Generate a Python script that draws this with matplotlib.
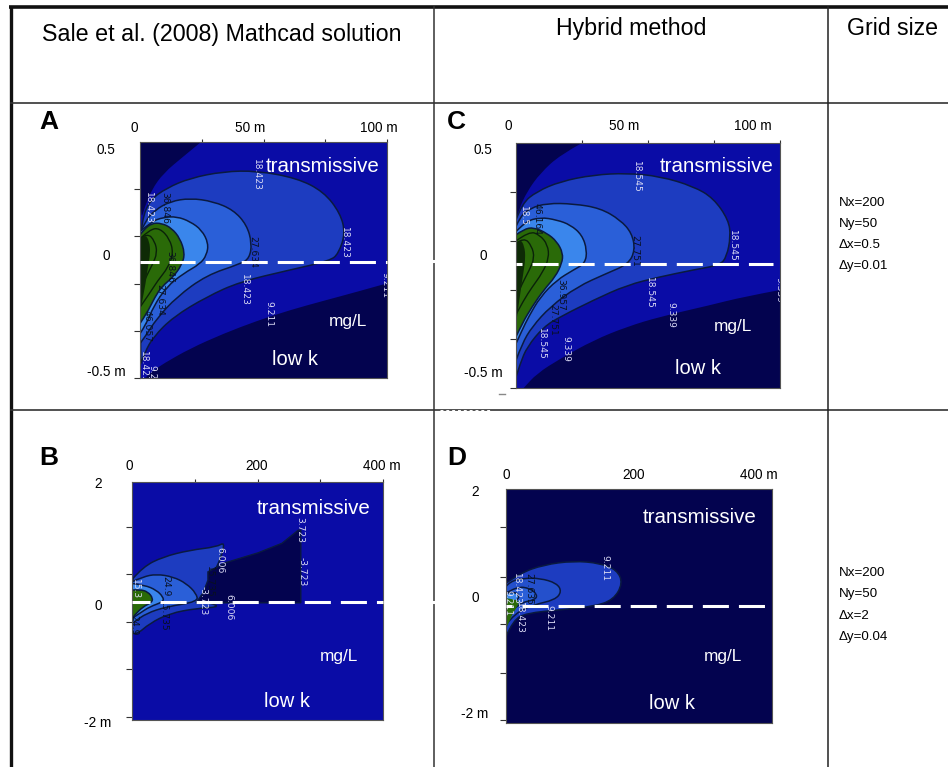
import matplotlib
matplotlib.use("Agg")
import matplotlib.pyplot as plt
from matplotlib.path import Path
from matplotlib.patches import PathPatch

plt.rcParams['font.family'] = ['Liberation Sans', 'DejaVu Sans']

W, H = 948, 767

# colours of the contour bands
NAVY = '#03034f'
BLUE1 = '#0a0ca6'
BLUE2 = '#1d3cc0'
BLUE3 = '#2a5fd8'
BLUE4 = '#3a86ec'
GREEN = '#2a6a08'
DKGREEN = '#0e2a06'

# Panel A, outlines (x in m, y in m)
a_corner_x = [24.7, 17.6, 9.5, 4.7, 2, 0, 0]
a_corner_y = [.5, .439, .368, .297, .227, .156, .5]
a_low_x = [100, 87.8, 74.3, 60.8, 47.3, 33.8, 20.3, 9.5, 4.7, 2, 2, 100]
a_low_y = [-.099, -.135, -.173, -.212, -.258, -.312, -.375, -.439, -.474, -.5, -.5, -.5]
a_l2_x = [0.3, 2, 5.4, 13.5, 27, 40.5, 60.8, 77, 80.4, 83.1, 81.1, 74.3, 63.5, 47.3, 33.8, 20.3, 10.8, 4.1, .7, 0]
a_l2_y = [-.439, -.39, -.326, -.241, -.156, -.092, -.042, -.003, .028, .113, .198, .29, .347, .378, .375, .347, .305, .255, .17, .07]
a_l3_x = [0, 2, 6.8, 14.9, 27, 40.5, 44.3, 45.3, 43.2, 37.8, 29.7, 20.3, 12.2, 6.1, 2, 0]
a_l3_y = [-.354, -.326, -.248, -.156, -.064, -.017, .007, .071, .149, .212, .248, .262, .248, .212, .163, .113]
a_l4_x = [0, 2.7, 5.4, 10.8, 17.6, 24.3, 27, 27.7, 25, 20.3, 14.9, 9.5, 4.7, 0]
a_l4_y = [-.312, -.269, -.198, -.113, -.057, -.017, .021, .071, .127, .163, .184, .181, .163, .12]
a_gr_x = [0, 2.7, 6.1, 8.8, 13.5, 16.9, 18.2, 16.2, 12.8, 8.8, 4.7, 1.4, 0]
a_gr_y = [-.269, -.227, -.156, -.113, -.071, -.021, .028, .092, .135, .156, .156, .127, .106]
a_in1_x = [0, 4, 7, 11.5, 13.5, 12, 8, 4, 0]
a_in1_y = [-.2, -.14, -.09, -.03, .03, .09, .135, .13, .09]
a_in2_x = [0, 2.5, 5, 7, 6, 3, 0]
a_in2_y = [-.13, -.07, -.02, .03, .08, .115, .09]
a_dk_x = [0, 2, 3.2, 4.2, 3.8, 2, 0]
a_dk_y = [-.22, -.12, -.03, .03, .08, .11, .09]
a_labels = ['18.423', '18.423', '18.423', '9.211', '9.211', '18.423', '18.423', '9.2']
a_lab_x = [47.3, 82.7, 42.2, 52, 99, 3.5, 1.4, 5]
a_lab_y = [.361, .071, -.127, -.227, -.106, .22, -.453, -.475]
a_dark_labels = ['27.634', '36.846', '27.634', '36.846', '46.057']
a_dark_x = [45.5, 10, 8, 12, 3]
a_dark_y = [.035, .22, -.17, -.03, -.28]

# Panel C
c_corner_x = [25, 16.8, 9.2, 4.2, 1, 0, 0]
c_corner_y = [.5, .452, .377, .302, .227, .173, .5]
c_low_x = [100, 86.1, 73.5, 54.6, 42, 29.4, 16.8, 7.9, 2.9, 2.9, 100]
c_low_y = [-.1, -.128, -.162, -.209, -.25, -.305, -.38, -.441, -.5, -.5, -.5]
c_l2_x = [0, 1.6, 4.2, 10.5, 16.8, 29.4, 42, 54.6, 67.2, 77.3, 79.8, 81.3, 80.5, 74.8, 67.2, 54.6, 42, 29.4, 16.8, 7.9, 2.3, 0]
c_l2_y = [-.455, -.4, -.332, -.25, -.209, -.141, -.08, -.046, -.018, .002, .036, .118, .186, .275, .323, .364, .377, .37, .343, .302, .254, .186]
c_l3_x = [0, 2.3, 6.1, 13, 23.1, 34.4, 42.6, 45.1, 43.9, 39.5, 31.9, 21.8, 11.7, 5.4, 1.6, 0]
c_l3_y = [-.387, -.319, -.25, -.168, -.087, -.032, .006, .063, .132, .186, .234, .252, .254, .234, .2, .159]
c_l4_x = [0, 2.3, 4.8, 9.2, 15.5, 21.8, 26.2, 26.9, 25, 20.6, 15.5, 9.2, 3.5, 0]
c_l4_y = [-.319, -.264, -.209, -.128, -.059, -.018, .009, .063, .125, .166, .186, .197, .179, .138]
c_gr_x = [0, 2.3, 6.1, 10.5, 14.9, 17.4, 17.8, 15.5, 11.7, 6.7, 2.9, 0]
c_gr_y = [-.291, -.237, -.168, -.1, -.046, .009, .05, .098, .132, .156, .148, .125]
c_in1_x = [0, 3, 6, 10, 12.5, 12, 9, 5, 0]
c_in1_y = [-.2, -.14, -.09, -.03, .03, .085, .125, .14, .1]
c_in2_x = [0, 2.5, 5, 7, 6, 3, 0]
c_in2_y = [-.13, -.07, -.02, .03, .08, .115, .09]
c_dk_x = [0, 1.5, 2.8, 3.6, 3.2, 1.5, 0]
c_dk_y = [-.24, -.12, -.03, .03, .08, .11, .09]
c_labels = ['18.545', '18.545', '18.545', '9.339', '9.339', '18.545', '9.339', '18.5']
c_lab_x = [45.5, 82, 50.5, 58.5, 99.5, 9.5, 19, 3]
c_lab_y = [.36, .08, -.11, -.2, -.1, -.32, -.34, .2]
c_dark_labels = ['27.751', '36.957', '27.751', '46.164']
c_dark_x = [45, 17, 14, 8]
c_dark_y = [.06, -.12, -.22, .19]

# Panel B
b_l2_x = [1.6, 17.5, 49.4, 91.9, 135, 148, 142, 134, 115.8, 105.1, 145, 102.5, 60, 28.1, 6.9, 0]
b_l2_y = [.379, .574, .742, .854, .91, .99, .742, .547, .155, .016, -.096, -.124, -.208, -.376, -.571, -.54]
b_wedge_x = [121, 148, 201, 239, 265, 269, 269, 102, 113, 121]
b_wedge_y = [.49, .64, .81, .97, 1.19, 1.19, -.03, -.03, .13, .35]
b_l3_x = [0, 17.5, 38.8, 65.3, 86.6, 102.5, 105.1, 54.7, 22.8, 4.2, 0]
b_l3_y = [.323, .407, .452, .407, .295, .127, -.012, -.096, -.208, -.348, -.376]
b_l4_x = [0, 20.2, 38.8, 49.4, 50.4, 28.1, 12.2, 0]
b_l4_y = [.295, .267, .183, .071, -.012, -.096, -.208, -.292]
b_gr_x = [0, 12.2, 25.5, 33.5, 30.8, 17.5, 4.2, 0]
b_gr_y = [.183, .194, .155, .043, -.029, -.096, -.236, -.292]
b_labels = ['3.723', '-3.723', '6.006', '6.006', '-3.723', '15.3']
b_lab_x = [268, 271, 140, 155, 113, 5]
b_lab_y = [1.19, .49, .69, -.1, 0, .2]
b_dark_labels = ['15.735', '24.9', '15.735', '24.9']
b_dark_x = [124, 54, 50, 3]
b_dark_y = [.32, .25, -.25, -.4]

# Panel D
d_l1_x = [0, 11, 31.1, 81.3, 131.5, 161.6, 175.7, 166.7, 141.6, 101.4, 56.2, 21.1, 0]
d_l1_y = [-.52, -.236, -.122, -.065, -.009, .105, .39, .617, .731, .771, .703, .56, .39]
d_l2_x = [0, 13.6, 41.2, 73.8, 83.8, 76.3, 51.2, 26.1, 6, 0]
d_l2_y = [-.32, -.122, .02, .105, .247, .39, .475, .475, .418, .333]
d_l3_x = [0, 18.6, 43.7, 47.2, 36.1, 16.1, 0]
d_l3_y = [-.18, .048, .105, .19, .304, .333, .219]
d_l4_x = [0, 13.6, 21.1, 13.6, 0]
d_l4_y = [-.065, .077, .162, .247, .219]
d_gr_x = [0, 6, 18.6, 20.1, 0]
d_gr_y = [-.407, -.208, .02, .105, .133]
d_labels = ['9.211', '18.423', '9.211', '18.423', '9.211']
d_lab_x = [148, 15, 65, 21, 3]
d_lab_y = [.65, .3, -.2, -.2, .05]
d_dark_labels = ['27.635']
d_dark_x = [35]
d_dark_y = [.3]

# headers and annotations
headers = ['Sale et al. (2008) Mathcad solution', 'Hybrid method', 'Grid size']
panel_letters = ['A', 'C', 'B', 'D']
grid_top = ['Nx=200', 'Ny=50', 'Δx=0.5', 'Δy=0.01']
grid_bottom = ['Nx=200', 'Ny=50', 'Δx=2', 'Δy=0.04']
top_labels_ac = ['0', '50 m', '100 m']
top_labels_bd = ['0', '200', '400 m']
side_labels_ac = ['0.5', '0', '-0.5 m']
side_labels_bd = ['2', '0', '-2 m']

fig = plt.figure(figsize=(W / 100, H / 100), dpi=100, facecolor='white')


def make_axes(left, right, top, bottom, xmax, ymax, xticks, yticks):
    ax = fig.add_axes([left / W, 1 - bottom / H, (right - left) / W, (bottom - top) / H])
    ax.set_xlim(0, xmax)
    ax.set_ylim(-ymax, ymax)
    ax.xaxis.tick_top()
    ax.set_xticks(xticks)
    ax.set_yticks(yticks)
    ax.set_xticklabels([])
    ax.set_yticklabels([])
    ax.tick_params(axis='x', length=2.5, width=.8, color='#333333', pad=0)
    ax.tick_params(axis='y', length=4.5, width=.8, color='#333333', pad=0)
    for s in ax.spines.values():
        s.set_color('#555555')
        s.set_linewidth(.8)
    return ax


def curve_path(x, y, close=True):
    # quadratic curve with the read points as control points
    pts = list(zip(x, y))
    verts = [pts[0]]
    codes = [Path.MOVETO]
    for i in range(1, len(pts) - 1):
        mid = ((pts[i][0] + pts[i + 1][0]) / 2, (pts[i][1] + pts[i + 1][1]) / 2)
        if i == len(pts) - 2:
            mid = pts[i + 1]
        verts += [pts[i], mid]
        codes += [Path.CURVE3, Path.CURVE3]
    if close:
        verts.append(pts[0])
        codes.append(Path.CLOSEPOLY)
    return Path(verts, codes)


def band(ax, x, y, color, line=True):
    p = PathPatch(curve_path(x, y), facecolor=color, edgecolor='#0a1a40' if line else color,
                  linewidth=1.1 if line else 0)
    ax.add_patch(p)


def inner(ax, x, y):
    ax.add_patch(PathPatch(curve_path(x, y, False), facecolor='none', edgecolor='#0a2208', linewidth=1.0))


def labels(ax, txt, xs, ys, color):
    for t, x, y in zip(txt, xs, ys):
        ax.text(x, y, t, rotation=270, color=color, fontsize=6.6, ha='center', va='center',
                family='DejaVu Sans', clip_on=True, zorder=4)


def dashes(ax, x_end, y, offset):
    ax.plot([0, x_end], [y, y], color='white', lw=2.2, solid_capstyle='butt',
            dash_capstyle='butt', linestyle=(offset / 3.05, (26 / 3.05, 10 / 3.05)), clip_on=False, zorder=5)


# A
ax = make_axes(140, 387, 142, 378, 100, .5, [25, 50, 75, 100], [-.5, -.3, -.1, .1, .3])
ax.set_facecolor(BLUE1)
band(ax, a_corner_x, a_corner_y, NAVY, False)
band(ax, a_low_x, a_low_y, NAVY, False)
band(ax, a_l2_x, a_l2_y, BLUE2)
band(ax, a_l3_x, a_l3_y, BLUE3)
band(ax, a_l4_x, a_l4_y, BLUE4)
band(ax, a_gr_x, a_gr_y, GREEN)
inner(ax, a_in1_x, a_in1_y)
inner(ax, a_in2_x, a_in2_y)
band(ax, a_dk_x, a_dk_y, DKGREEN, False)
labels(ax, a_labels, a_lab_x, a_lab_y, '#dcdcf5')
labels(ax, a_dark_labels, a_dark_x, a_dark_y, '#081020')
dashes(ax, 100, -.007, 7)

# C
ax = make_axes(516, 780, 143, 388, 100, .5, [25, 50, 75, 100], [-.5, -.3, -.1, .1, .3])
ax.set_facecolor(BLUE1)
band(ax, c_corner_x, c_corner_y, NAVY, False)
band(ax, c_low_x, c_low_y, NAVY, False)
band(ax, c_l2_x, c_l2_y, BLUE2)
band(ax, c_l3_x, c_l3_y, BLUE3)
band(ax, c_l4_x, c_l4_y, BLUE4)
band(ax, c_gr_x, c_gr_y, GREEN)
inner(ax, c_in1_x, c_in1_y)
inner(ax, c_in2_x, c_in2_y)
band(ax, c_dk_x, c_dk_y, DKGREEN, False)
labels(ax, c_labels, c_lab_x, c_lab_y, '#dcdcf5')
labels(ax, c_dark_labels, c_dark_x, c_dark_y, '#081020')
dashes(ax, 97.5, .005, 20)

# B
ax = make_axes(132, 383, 482, 720, 400, 2, [100, 200, 300, 400], [-1.95, -1.15, -.35, .45, 1.25])
ax.set_facecolor(BLUE1)
band(ax, b_l2_x, b_l2_y, BLUE2)
ax.fill(b_wedge_x, b_wedge_y, facecolor=NAVY, edgecolor='#0a1a40', linewidth=1.0)
band(ax, b_l3_x, b_l3_y, BLUE3)
band(ax, b_l4_x, b_l4_y, BLUE4)
band(ax, b_gr_x, b_gr_y, GREEN)
labels(ax, b_labels, b_lab_x, b_lab_y, '#dcdcf5')
labels(ax, b_dark_labels, b_dark_x, b_dark_y, '#081020')
dashes(ax, 400, -.02, 8)

# D
ax = make_axes(506, 772, 489, 723, 400, 2, [100, 200, 300, 400], [-1.95, -1.15, -.3, .5, 1.35])
ax.set_facecolor(NAVY)
ax.tick_params(axis='x', length=0)
band(ax, d_l1_x, d_l1_y, BLUE2)
band(ax, d_l2_x, d_l2_y, '#2450cc')
band(ax, d_l3_x, d_l3_y, BLUE3)
band(ax, d_l4_x, d_l4_y, BLUE4)
band(ax, d_gr_x, d_gr_y, GREEN, False)
labels(ax, d_labels, d_lab_x, d_lab_y, '#dcdcf5')
labels(ax, d_dark_labels, d_dark_x, d_dark_y, '#081020')
dashes(ax, 390, .0, 20)

# table rules and all other text go on a top layer in pixel coordinates
top = fig.add_axes([0, 0, 1, 1], zorder=10)
top.set_xlim(0, W)
top.set_ylim(H, 0)
top.axis('off')
top.patch.set_alpha(0)

top.plot([9, W], [7, 7], color='#111111', lw=2.6, solid_capstyle='butt')
top.plot([11, 11], [7, H], color='#111111', lw=2.4, solid_capstyle='butt')
top.plot([11, W], [103, 103], color='#333333', lw=1.2)
top.plot([11, W], [410, 410], color='#333333', lw=1.2)
top.plot([434, 434], [7, H], color='#333333', lw=1.1)
top.plot([828, 828], [7, H], color='#222222', lw=1.1)
top.plot([430, 437], [261, 261], color='white', lw=2.2)
top.plot([430, 437], [602, 602], color='white', lw=2.2)
top.plot([440, 490], [410, 410], color='white', lw=.7, ls=(0, (3, 3)))
top.plot([499, 505], [394, 394], color='#888888', lw=1)


def txt(x, y, s, size=9.8, color='black', ha='center', **kw):
    top.text(x, y + 1.2, s, fontsize=size, color=color, ha=ha, va='center', **kw)


txt(42, 33, headers[0], 16.75, ha='left')
txt(631, 27, headers[1], 16.7)
txt(893, 27, headers[2], 16.7)

for letter, x, y in zip(panel_letters, [39, 447, 39, 447], [121, 121, 457, 457]):
    txt(x, y, letter, 19, ha='left', fontweight='bold')

for s, x in zip(top_labels_ac, [134, 250, 379]):
    txt(x, 127, s)
for s, x in zip(top_labels_ac, [508, 624, 753]):
    txt(x, 125, s)
for s, x in zip(top_labels_bd, [129, 257, 382]):
    txt(x, 465, s)
for s, x in zip(top_labels_bd, [506, 634, 759]):
    txt(x, 474, s)
for s, y in zip(side_labels_ac, [149, 255, 371]):
    txt(106, y, s)
for s, y in zip(side_labels_ac, [149, 255, 372]):
    txt(483, y, s)
for s, y in zip(side_labels_bd, [483, 605, 722]):
    txt(98, y, s)
for s, y in zip(side_labels_bd, [491, 597, 713]):
    txt(475, y, s)

for x, y in zip([323, 717, 314, 700], [165, 165, 507, 516]):
    txt(x, y, 'transmissive', 14.8, 'white')
for x, y in zip([348, 733, 339, 723], [320, 325, 655, 655]):
    txt(x, y, 'mg/L', 12.4, 'white')
for x, y in zip([295, 698, 287, 672], [358, 367, 700, 702]):
    txt(x, y, 'low k', 14.5, 'white')

for s, y in zip(grid_top, [202, 223, 244, 265]):
    txt(839, y, s, 9.6, ha='left')
for s, y in zip(grid_bottom, [572, 593, 615, 636]):
    txt(839, y, s, 9.6, ha='left')

fig.savefig('out.png', dpi=100)
